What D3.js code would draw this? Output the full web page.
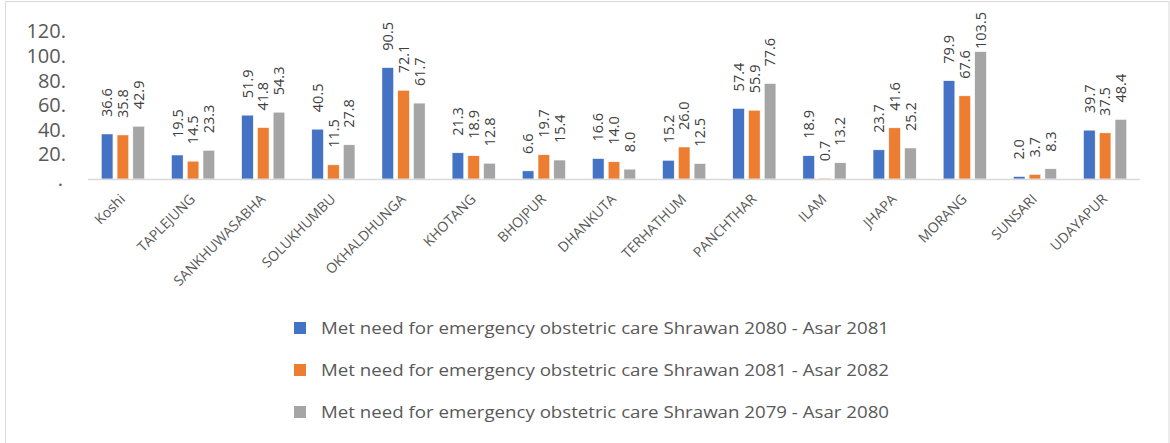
<!DOCTYPE html>
<html>
<head>
<meta charset="utf-8">
<script src="https://cdn.jsdelivr.net/npm/d3@7/dist/d3.min.js"></script>
<style>
  html, body { margin: 0; padding: 0; background: #fff; }
  svg { display: block; font-family: "Open Sans", "Liberation Sans", sans-serif; }
</style>
</head>
<body>
<svg id="chart" width="1170" height="443"></svg>
<script>
// Districts of Koshi province (first entry is the province total)
const districts = ["Koshi", "TAPLEJUNG", "SANKHUWASABHA", "SOLUKHUMBU", "OKHALDHUNGA", "KHOTANG",
  "BHOJPUR", "DHANKUTA", "TERHATHUM", "PANCHTHAR", "ILAM", "JHAPA", "MORANG", "SUNSARI", "UDAYAPUR"];

const seriesNames = [
  "Met need for emergency obstetric care Shrawan 2080 - Asar 2081",
  "Met need for emergency obstetric care Shrawan 2081 - Asar 2082",
  "Met need for emergency obstetric care Shrawan 2079 - Asar 2080"
];

const fy2080 = [36.6, 19.5, 51.9, 40.5, 90.5, 21.3, 6.6, 16.6, 15.2, 57.4, 18.9, 23.7, 79.9, 2.0, 39.7];
const fy2081 = [35.8, 14.5, 41.8, 11.5, 72.1, 18.9, 19.7, 14.0, 26.0, 55.9, 0.7, 41.6, 67.6, 3.7, 37.5];
const fy2079 = [42.9, 23.3, 54.3, 27.8, 61.7, 12.8, 15.4, 8.0, 12.5, 77.6, 13.2, 25.2, 103.5, 8.3, 48.4];

const yTicks = [0, 20, 40, 60, 80, 100, 120];
const colors = ["#4472C4", "#ED7D31", "#A5A5A5"];

const seriesValues = [fy2080, fy2081, fy2079];

const svg = d3.select("#chart");
const W = 1170, H = 443;

// outer chart frame
svg.append("rect")
  .attr("x", 5.5).attr("y", 1.5)
  .attr("width", W - 6.5).attr("height", H + 10)
  .attr("fill", "#fff").attr("stroke", "#d9d9d9").attr("stroke-width", 1);

const plot = { left: 88, right: 1140, top: 31.4, bottom: 179 };
const labelTopLimit = 12;   // data labels are kept below this line

const x = d3.scaleBand().domain(districts).range([plot.left, plot.right]).paddingInner(0.385).paddingOuter(0.19);
const xs = d3.scaleBand().domain(d3.range(seriesNames.length)).range([0, x.bandwidth()]).paddingInner(0.263);
const y = d3.scaleLinear().domain([0, 120]).range([plot.bottom, plot.top]);

// y axis labels (no line, no gridlines)
const yAxis = d3.axisLeft(y).tickValues(yTicks).tickSize(0).tickPadding(0)
  .tickFormat(d => d === 0 ? "." : d + ".");
const yg = svg.append("g").attr("transform", `translate(${66},0)`).call(yAxis);
yg.select(".domain").remove();
yg.selectAll("text")
  .attr("fill", "#595959").style("font-size", "20px")
  .attr("font-family", "'Open Sans', sans-serif");
yg.selectAll(".tick").filter(d => d === 0).select("text").attr("dx", -3);

// bars
const groups = svg.append("g").selectAll("g").data(districts).join("g")
  .attr("transform", d => `translate(${x(d)},0)`);

seriesValues.forEach((vals, si) => {
  groups.append("rect")
    .attr("x", xs(si))
    .attr("width", xs.bandwidth())
    .attr("y", (d, i) => y(vals[i]))
    .attr("height", (d, i) => y(0) - y(vals[i]))
    .attr("fill", colors[si])
    .attr("stroke", "#fff").attr("stroke-width", 0.5);

  // value labels, rotated and centred on each bar, pushed down if they would leave the chart
  groups.append("text")
    .attr("text-anchor", "start")
    .attr("dy", "0.36em")
    .attr("fill", "#404040")
    .style("font-size", "14.5px")
    .text((d, i) => vals[i].toFixed(1))
    .attr("transform", function (d, i) {
      const len = this.getComputedTextLength();
      const base = Math.max(y(vals[i]) - 17, labelTopLimit + len);
      return `translate(${xs(si) + xs.bandwidth() / 2},${base}) rotate(-90)`;
    });
});

// x axis line
svg.append("line")
  .attr("x1", plot.left).attr("x2", plot.right)
  .attr("y1", y(0) + 0.5).attr("y2", y(0) + 0.5)
  .attr("stroke", "#d9d9d9").attr("stroke-width", 1.5);

// category labels at -45°
svg.append("g").selectAll("text").data(districts).join("text")
  .attr("transform", d => `translate(${x(d) + x.bandwidth() / 2 + 3},${y(0) + 21}) rotate(-45)`)
  .attr("text-anchor", "end")
  .attr("fill", "#595959")
  .style("font-size", "14px")
  .text(d => d);

// legend
const legend = svg.append("g").selectAll("g").data(seriesNames).join("g")
  .attr("transform", (d, i) => `translate(294,${328 + i * 42})`);
legend.append("rect")
  .attr("x", 0).attr("y", -6).attr("width", 12).attr("height", 12)
  .attr("fill", (d, i) => colors[i]);
legend.append("text")
  .attr("x", 27).attr("dy", "0.36em")
  .attr("fill", "#595959")
  .style("font-size", "17px")
  .attr("textLength", 568).attr("lengthAdjust", "spacingAndGlyphs")
  .text(d => d);
</script>
</body>
</html>
